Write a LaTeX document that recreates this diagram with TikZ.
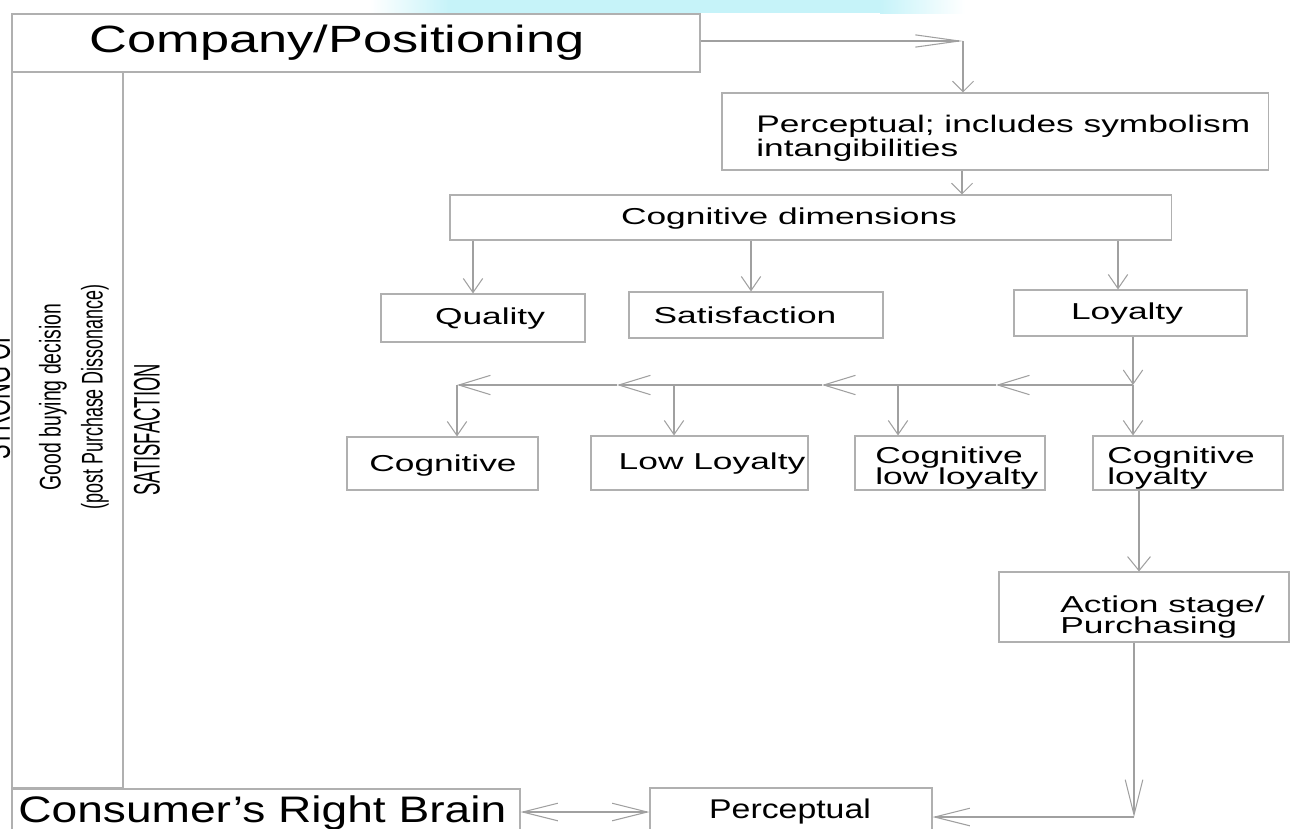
\documentclass[tikz,border=0pt]{standalone}
\usepackage{fontspec}
\setmainfont{Liberation Sans}
\newfontfamily\wfont[FakeStretch=1.535]{Liberation Sans}
\newfontfamily\pfont[FakeStretch=1.47]{Liberation Sans}
\newfontfamily\cfont[FakeStretch=1.38]{Liberation Sans}
\newfontfamily\dfont[FakeStretch=1.25]{Liberation Sans}
\newfontfamily\plainfont{Liberation Sans}
\usetikzlibrary{arrows.meta}
\definecolor{bx}{HTML}{B0B0B0}
\definecolor{ln}{HTML}{A0A0A0}
\definecolor{cy}{HTML}{C6F3F9}
\tikzset{
  TipCompany/.tip={Straight Barb[length=25pt,width=7pt]},
  TipShort/.tip={Straight Barb[length=6pt,width=12pt]},
  TipMid/.tip={Straight Barb[length=8pt,width=11pt]},
  TipLeft/.tip={Straight Barb[length=18pt,width=11pt]},
  TipLong/.tip={Straight Barb[length=8pt,width=13pt]},
  TipBottom/.tip={Straight Barb[length=20pt,width=10pt]},
  box/.style={draw=bx, line width=0.6pt, fill=white, inner sep=0pt},
  conn/.style={draw=ln, line width=0.6pt},
  lbl/.style={font=\wfont\fontsize{13.1}{11.95}\selectfont, inner sep=0pt, text=black},
  lbltwo/.style={lbl, align=left, anchor=west},
}
\begin{document}
\begin{tikzpicture}[x=0.2mm,y=-0.2mm]
\lineskiplimit=-50pt\relax
\useasboundingbox (0,0) rectangle (1294,828);
\begin{scope}
\clip (0,0) rectangle (1294,828);
% cyan band at top
\shade[left color=white, right color=cy] (370,0) rectangle (450,13);
\fill[cy] (450,0) rectangle (880,13);
\shade[left color=cy, right color=white] (880,0) rectangle (965,13);

% boxes
\node[box, minimum width=137.6mm, minimum height=11.6mm] (comp) at (356,43) {};
\node[box, minimum width=22.2mm, minimum height=143.2mm] (side) at (67.5,430) {};
\node[box, minimum width=109.2mm, minimum height=15.4mm] (perc) at (995,131.5) {};
\node[box, minimum width=144.2mm, minimum height=9mm] (cdim) at (810.5,217.5) {};
\node[box, minimum width=40.8mm, minimum height=9.6mm] (qual) at (483,318) {};
\node[box, minimum width=50.8mm, minimum height=9.2mm] (sat) at (756,315) {};
\node[box, minimum width=46.6mm, minimum height=9.2mm] (loy) at (1130.5,313) {};
\node[box, minimum width=38.2mm, minimum height=10.6mm] (cog) at (442.5,463.5) {};
\node[box, minimum width=43.4mm, minimum height=10.8mm] (low) at (699.5,463) {};
\node[box, minimum width=38mm, minimum height=10.8mm] (cll) at (950,463) {};
\node[box, minimum width=38mm, minimum height=10.8mm] (cl) at (1188,463) {};
\node[box, minimum width=58mm, minimum height=14mm] (act) at (1144,607) {};
\node[box, minimum width=56.4mm, minimum height=14.4mm] (pb) at (791,824) {};
\node[box, minimum width=101.6mm, minimum height=14.2mm] (crb) at (266,824.5) {};

% texts
\node[lbl, anchor=base, font=\cfont\fontsize{21.6}{21.6}\selectfont] (tcomp) at (337,52) {Company/Positioning};
\node[lbltwo, font=\pfont\fontsize{13.65}{13.65}\selectfont] (tperc) at (756,138.5) {Perceptual; includes symbolism\\intangibilities};
\node[lbl, anchor=base] (tcdim) at (789,224) {Cognitive dimensions};
\node[lbl, anchor=base] (tqual) at (490,324) {Quality};
\node[lbl, anchor=base] (tsat) at (745,323.5) {Satisfaction};
\node[lbl, anchor=base] (tloy) at (1127,319.5) {Loyalty};
\node[lbl, anchor=base] (tcog) at (443,471) {Cognitive};
\node[lbl, anchor=base] (tlow) at (712,469) {Low Loyalty};
\node[lbltwo] (tcll) at (875,468) {Cognitive\\low loyalty};
\node[lbltwo] (tcl) at (1107,468) {Cognitive\\loyalty};
\node[lbltwo] (tact) at (1060,617.5) {Action stage/\\Purchasing};
\node[lbl, anchor=base, font=\dfont\fontsize{15.4}{15.4}\selectfont] (tpb) at (790,818) {Perceptual};
\node[lbl, anchor=base west, font=\dfont\fontsize{21}{21}\selectfont] (tcrb) at (18,822) {Consumer’s Right Brain};

% vertical texts
\node[rotate=90, inner sep=0pt, align=center, font=\plainfont\fontsize{17}{23.9}\selectfont] (tgood) at (74,397)
  {\scalebox{0.65}[1]{Good buying decision}\\\scalebox{0.6}[1]{(post Purchase Dissonance)}};
\node[rotate=90, inner sep=0pt, font=\plainfont\fontsize{21}{21}\selectfont] (tsatv) at (147,430)
  {\scalebox{0.5}[1]{SATISFACTION}};
\node[rotate=90, anchor=base, inner sep=0pt, font=\plainfont\fontsize{21}{21}\selectfont] (tstrong) at (10,395)
  {\scalebox{0.59}[1]{STRONG OF}};

% junction coordinates
\coordinate (c1) at (963,41);
\coordinate (x962) at (962,0);
\coordinate (x473) at (473,0);
\coordinate (x751) at (751,0);
\coordinate (x1118) at (1118,0);
\coordinate (j1) at (1133,385);
\coordinate (h1) at (996,385);
\coordinate (h2) at (822,385);
\coordinate (h3) at (617,385);
\coordinate (j0) at (457,385);
\coordinate (d2) at (674,385);
\coordinate (d3) at (898,385);
\coordinate (x1139) at (1139,0);
\coordinate (j2) at (1134,817);
\coordinate (y812) at (0,812);

% connectors
\draw[conn, -{TipCompany}] (comp.east |- c1) -- (c1);
\draw[conn, -{TipShort}] (c1) -- (c1 |- perc.north);
\draw[conn, -{TipShort}] (perc.south -| x962) -- (cdim.north -| x962);
\draw[conn, -{TipMid}] (cdim.south -| x473) -- (qual.north -| x473);
\draw[conn, -{TipMid}] (cdim.south -| x751) -- (sat.north -| x751);
\draw[conn, -{TipMid}] (cdim.south -| x1118) -- (loy.north -| x1118);
\draw[conn, -{TipMid}] (loy.south -| j1) -- (j1);
\draw[conn, -{TipLeft}] (j1) -- (h1);
\draw[conn, -{TipLeft}] (h1) -- (h2);
\draw[conn, -{TipLeft}] (h2) -- (h3);
\draw[conn, -{TipLeft}] (h3) -- (j0);
\draw[conn, -{TipMid}] (j0) -- (cog.north -| j0);
\draw[conn, -{TipMid}] (d2) -- (low.north -| d2);
\draw[conn, -{TipMid}] (d3) -- (cll.north -| d3);
\draw[conn, -{TipMid}] (j1) -- (cl.north -| j1);
\draw[conn, -{TipLong}] (cl.south -| x1139) -- (act.north -| x1139);
\draw[conn, -{TipBottom}] (act.south -| j2) -- (j2);
\draw[conn, -{TipBottom}] (j2) -- (pb.east |- j2);
\draw[conn, {TipBottom}-{TipBottom}] (crb.east |- y812) -- (pb.west |- y812);
\end{scope}
\end{tikzpicture}
\end{document}
